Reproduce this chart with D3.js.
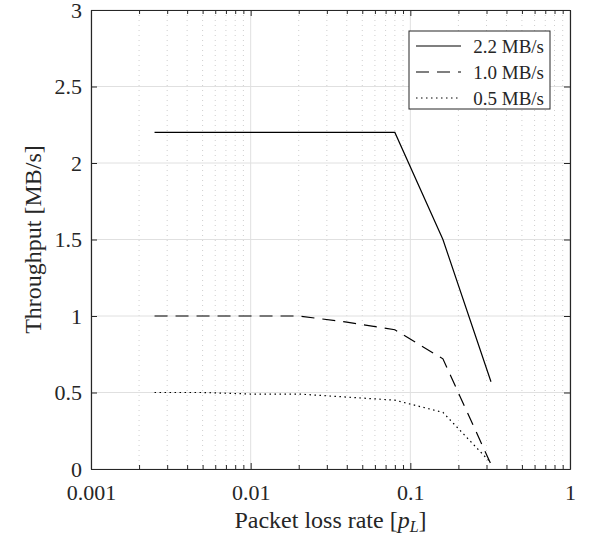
<!DOCTYPE html>
<html>
<head>
<meta charset="utf-8">
<script src="https://cdn.jsdelivr.net/npm/d3@7"></script>
<style>
  body { margin: 0; background: #fff; }
  text { font-family: "Liberation Serif", "Times New Roman", serif; fill: #262626; }
</style>
</head>
<body>
<div id="chart"></div>
<script>
(function() {

    // loss rates (x) and throughput per target rate
    const lossRates = [0.0025, 0.005, 0.01, 0.02, 0.04, 0.08, 0.16, 0.32];
    const thr22 = [2.2, 2.2, 2.2, 2.2, 2.2, 2.2, 1.5, 0.57];
    const thr10 = [1.0, 1.0, 1.0, 1.0, 0.96, 0.91, 0.72, 0.03];
    const thr05 = [0.5, 0.5, 0.49, 0.49, 0.47, 0.45, 0.37, 0.04];
    const seriesNames = ["2.2 MB/s", "1.0 MB/s", "0.5 MB/s"];
    const xTicks = [0.001, 0.01, 0.1, 1];
    const yTicks = [0, 0.5, 1, 1.5, 2, 2.5, 3];

    const margin = {top: 10, right: 30, bottom: 71, left: 91};
    const W = 600, H = 540;
    const width = W - margin.left - margin.right;
    const height = H - margin.top - margin.bottom;

    const svg = d3.select("#chart").append("svg")
        .attr("width", W)
        .attr("height", H);
    const g = svg.append("g")
        .attr("transform", "translate(" + margin.left + "," + margin.top + ")");

    const x = d3.scaleLog().domain([0.001, 1]).range([0, width]);
    const y = d3.scaleLinear().domain([0, 3]).range([height, 0]);

    // minor positions 2..9 in each decade
    let minor = [];
    [0.001, 0.01, 0.1].forEach(function(d) {
        for (let k = 2; k <= 9; k++) minor.push(d * k);
    });

    // grid
    g.append("g").selectAll("line").data(minor).enter().append("line")
        .attr("x1", d => x(d)).attr("x2", d => x(d))
        .attr("y1", 0).attr("y2", height)
        .attr("stroke", "#cfcfcf").attr("stroke-width", 1)
        .attr("stroke-dasharray", "1,4");
    g.append("g").selectAll("line").data(xTicks).enter().append("line")
        .attr("x1", d => x(d)).attr("x2", d => x(d))
        .attr("y1", 0).attr("y2", height)
        .attr("stroke", "#e0e0e0").attr("stroke-width", 1);
    g.append("g").selectAll("line").data(yTicks).enter().append("line")
        .attr("x1", 0).attr("x2", width)
        .attr("y1", d => y(d)).attr("y2", d => y(d))
        .attr("stroke", "#e0e0e0").attr("stroke-width", 1);

    // axes, ticks pointing in
    const fmtX = d => (d === 1 ? "1" : String(d));
    g.append("g").attr("transform", "translate(0," + height + ")")
        .call(d3.axisBottom(x).tickValues(xTicks).tickFormat(fmtX).tickSizeInner(-6).tickSizeOuter(0).tickPadding(15));
    g.append("g").attr("transform", "translate(0," + height + ")")
        .call(d3.axisBottom(x).tickValues(minor).tickFormat("").tickSizeInner(-4).tickSizeOuter(0));
    g.append("g")
        .call(d3.axisTop(x).tickValues(xTicks).tickFormat("").tickSizeInner(-6).tickSizeOuter(0));
    g.append("g")
        .call(d3.axisTop(x).tickValues(minor).tickFormat("").tickSizeInner(-4).tickSizeOuter(0));
    g.append("g")
        .call(d3.axisLeft(y).tickValues(yTicks).tickFormat(d3.format("")).tickSizeInner(-6).tickSizeOuter(0).tickPadding(9));
    g.append("g").attr("transform", "translate(" + width + ",0)")
        .call(d3.axisRight(y).tickValues(yTicks).tickFormat("").tickSizeInner(-6).tickSizeOuter(0));

    g.selectAll(".domain").attr("stroke", "#262626").attr("stroke-width", 1.2);
    g.selectAll(".tick line").attr("stroke", "#262626");
    g.selectAll(".tick text")
        .style("font-family", "'Liberation Serif', serif")
        .style("font-size", "22px").attr("fill", "#262626");

    // lines
    const series = [thr22, thr10, thr05];
    const dashes = [null, "13,8", "1.5,3.5"];
    const line = d3.line().x(d => x(d[0])).y(d => y(d[1]));
    series.forEach(function(vals, i) {
        g.append("path")
            .datum(lossRates.map((r, j) => [r, vals[j]]))
            .attr("d", line)
            .attr("fill", "none")
            .attr("stroke", "#000")
            .attr("stroke-width", 1.2)
            .attr("stroke-dasharray", dashes[i]);
    });

    // legend
    const lg = g.append("g").attr("transform", "translate(" + (409 - margin.left) + "," + (31 - margin.top) + ")");
    lg.append("rect").attr("width", 141).attr("height", 78)
        .attr("fill", "#fff").attr("stroke", "#262626").attr("stroke-width", 1);
    seriesNames.forEach(function(name, i) {
        const yy = 15 + i * 26;
        lg.append("line").attr("x1", 7).attr("x2", 52).attr("y1", yy).attr("y2", yy)
            .attr("stroke", "#000").attr("stroke-width", 1.2)
            .attr("stroke-dasharray", dashes[i]);
        lg.append("text").attr("x", 135).attr("y", yy).attr("dy", "0.35em")
            .attr("text-anchor", "end").style("font-size", "19px").text(name);
    });

    // axis labels
    svg.append("text")
        .attr("x", margin.left + width / 2).attr("y", 528)
        .attr("text-anchor", "middle").style("font-size", "24px")
        .html('Packet loss rate [<tspan font-style="italic">p</tspan><tspan font-style="italic" font-size="16px" dy="4">L</tspan><tspan dy="-4">]</tspan>');
    svg.append("text")
        .attr("transform", "translate(41," + (margin.top + height / 2) + ") rotate(-90)")
        .attr("text-anchor", "middle").style("font-size", "24px")
        .text("Throughput [MB/s]");

})();
</script>
</body>
</html>
